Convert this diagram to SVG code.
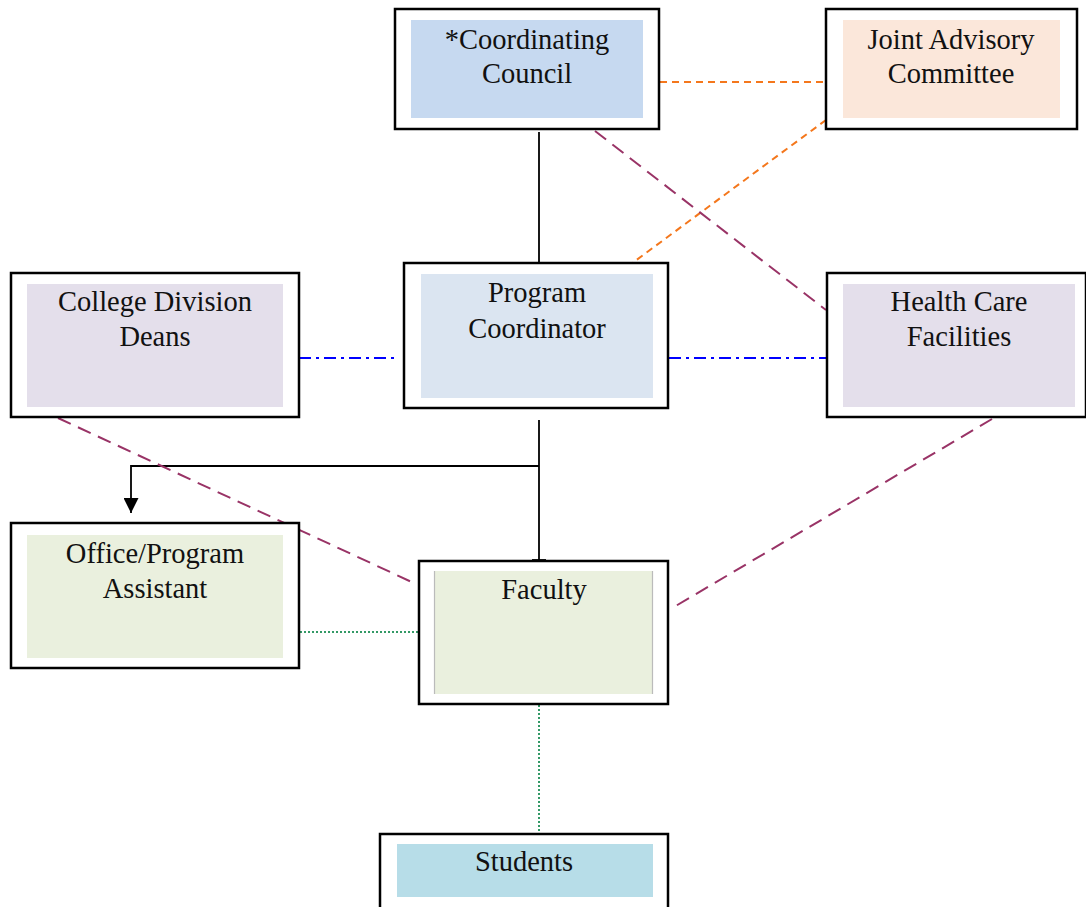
<svg xmlns="http://www.w3.org/2000/svg" width="1086" height="907" viewBox="0 0 1086 907">
<style>
.box{fill:#ffffff;stroke:#000000;stroke-width:2.5}
.lbl{font-family:"Liberation Serif","Times New Roman",serif;font-size:28.5px;fill:#111111;text-anchor:middle}
.solid{stroke:#000000;stroke-width:1.8;fill:none}
.orange{stroke:#f4771c;stroke-width:2;stroke-dasharray:7,5;fill:none}
.purple{stroke:#993366;stroke-width:2;stroke-dasharray:14,8;fill:none}
.blue{stroke:#0000ff;stroke-width:2;stroke-dasharray:12,5,3,5;fill:none}
.green{stroke:#339966;stroke-width:2;stroke-dasharray:2,2;fill:none}
</style>
<defs>
<marker id="arr" viewBox="0 0 10 10" refX="10" refY="5" markerWidth="15" markerHeight="15" markerUnits="userSpaceOnUse" orient="auto">
<path d="M0,0 L10,5 L0,10 Z" fill="#000000"/>
</marker>
</defs>
<rect width="1086" height="907" fill="#ffffff"/>
<g id="connectors">
<line class="solid" x1="539" y1="132" x2="539" y2="262"/>
<line class="orange" x1="660" y1="82" x2="825" y2="82"/>
<line class="orange" x1="826" y1="120" x2="631" y2="264"/>
<line class="purple" x1="595" y1="131" x2="826" y2="310"/>
<line class="blue" x1="299" y1="358" x2="396" y2="358"/>
<line class="blue" x1="669" y1="358" x2="826" y2="358"/>
<line class="solid" x1="539" y1="420" x2="539" y2="560"/>
<line class="solid" x1="532" y1="560" x2="546" y2="560"/>
<path class="solid" d="M539,466 H131 V513" marker-end="url(#arr)"/>
<line class="purple" x1="58" y1="418" x2="416" y2="584"/>
<line class="purple" x1="992" y1="419" x2="674" y2="607"/>
<line class="green" x1="300" y1="632" x2="418" y2="632"/>
<line class="green" x1="539" y1="705" x2="539" y2="833"/>
</g>
<g id="coordinating-council">
<rect class="box" x="395" y="9" width="264" height="120"/>
<rect x="411" y="20" width="232" height="98" fill="#c6d9f0"/>
<text class="lbl" x="527" y="49">*Coordinating</text>
<text class="lbl" x="527" y="83">Council</text>
</g>
<g id="joint-advisory-committee">
<rect class="box" x="826" y="9" width="251" height="120"/>
<rect x="843" y="20" width="217" height="98" fill="#fbe7da"/>
<text class="lbl" x="951" y="49">Joint Advisory</text>
<text class="lbl" x="951" y="83">Committee</text>
</g>
<g id="college-division-deans">
<rect class="box" x="11" y="273" width="288" height="144"/>
<rect x="27" y="284" width="256" height="123" fill="#e4dfeb"/>
<text class="lbl" x="155" y="311">College Division</text>
<text class="lbl" x="155" y="346">Deans</text>
</g>
<g id="program-coordinator">
<rect class="box" x="404" y="263" width="264" height="145"/>
<rect x="421" y="274" width="232" height="124" fill="#dbe5f1"/>
<text class="lbl" x="537" y="302">Program</text>
<text class="lbl" x="537" y="338">Coordinator</text>
</g>
<g id="health-care-facilities">
<rect class="box" x="827" y="273" width="259" height="144"/>
<rect x="843" y="284" width="232" height="123" fill="#e4dfeb"/>
<text class="lbl" x="959" y="311">Health Care</text>
<text class="lbl" x="959" y="346">Facilities</text>
</g>
<g id="office-program-assistant">
<rect class="box" x="11" y="523" width="288" height="145"/>
<rect x="27" y="535" width="256" height="123" fill="#eaf0de"/>
<text class="lbl" x="155" y="563">Office/Program</text>
<text class="lbl" x="155" y="598">Assistant</text>
</g>
<g id="faculty">
<rect class="box" x="419" y="561" width="249" height="143"/>
<rect x="434" y="571" width="219" height="123" fill="#eaf0de"/>
<line x1="434.5" y1="571" x2="434.5" y2="694" stroke="#bbbbbb" stroke-width="1.2"/>
<line x1="652.5" y1="571" x2="652.5" y2="694" stroke="#bbbbbb" stroke-width="1.2"/>
<text class="lbl" x="544" y="599">Faculty</text>
</g>
<g id="students">
<rect class="box" x="380" y="834" width="288" height="80"/>
<rect x="397" y="844" width="256" height="53" fill="#b7dde8"/>
<text class="lbl" x="524" y="871">Students</text>
</g>
</svg>
